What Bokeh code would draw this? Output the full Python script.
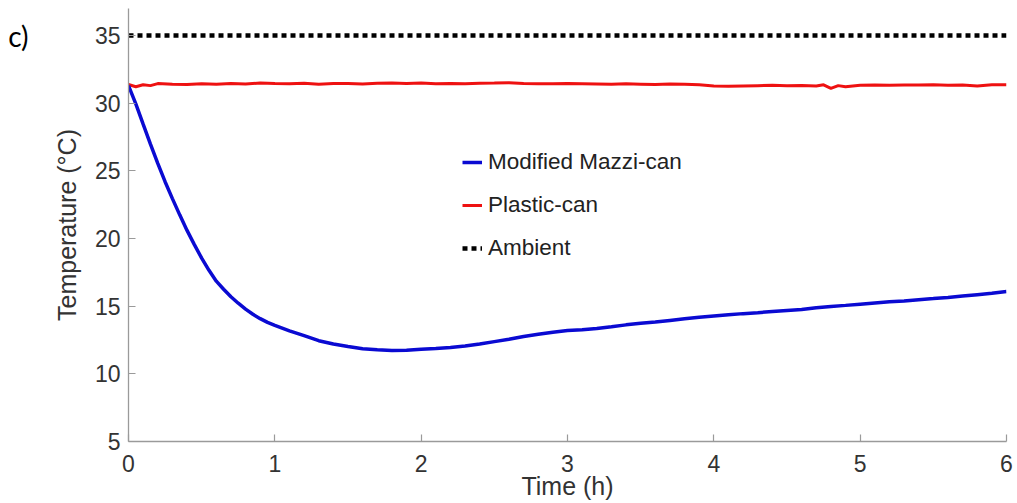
from bokeh.plotting import figure
from bokeh.models import FixedTicker, Legend, LegendItem, LinearAxis
from bokeh.embed import file_html
from bokeh.resources import INLINE

# Temperature records over six hours (h, °C)
mazzi_time = [0.00, 0.05, 0.10, 0.15, 0.20, 0.25, 0.30, 0.35, 0.40, 0.45,
              0.50, 0.55, 0.60, 0.65, 0.70, 0.75, 0.80, 0.85, 0.90, 0.95,
              1.00, 1.10, 1.20, 1.30, 1.40, 1.50, 1.60, 1.70, 1.80, 1.90,
              2.00, 2.10, 2.20, 2.30, 2.40, 2.50, 2.60, 2.70, 2.80, 2.90,
              3.00, 3.10, 3.20, 3.30, 3.40, 3.50, 3.60, 3.70, 3.80, 3.90,
              4.00, 4.10, 4.20, 4.30, 4.40, 4.50, 4.60, 4.70, 4.80, 4.90,
              5.00, 5.10, 5.20, 5.30, 5.40, 5.50, 5.60, 5.70, 5.80, 5.90,
              6.00]
mazzi_temp = [31.30, 29.95, 28.45, 26.98, 25.55, 24.20, 22.95, 21.75, 20.60, 19.55,
              18.55, 17.65, 16.85, 16.25, 15.70, 15.22, 14.78, 14.40, 14.08, 13.80,
              13.58, 13.18, 12.82, 12.45, 12.20, 12.02, 11.86, 11.78, 11.72, 11.74,
              11.82, 11.88, 11.95, 12.05, 12.20, 12.38, 12.55, 12.76, 12.92, 13.08,
              13.20, 13.26, 13.35, 13.48, 13.62, 13.74, 13.83, 13.95, 14.07, 14.18,
              14.28, 14.37, 14.45, 14.52, 14.60, 14.68, 14.76, 14.89, 14.98, 15.06,
              15.15, 15.24, 15.32, 15.39, 15.48, 15.56, 15.65, 15.75, 15.85, 15.95,
              16.08]

plastic_time = [0.00, 0.05, 0.10, 0.15, 0.20, 0.30, 0.40, 0.50, 0.60, 0.70,
                0.80, 0.90, 1.00, 1.10, 1.20, 1.30, 1.40, 1.50, 1.60, 1.70,
                1.80, 1.90, 2.00, 2.10, 2.20, 2.30, 2.40, 2.50, 2.60, 2.70,
                2.80, 2.90, 3.00, 3.10, 3.20, 3.30, 3.40, 3.50, 3.60, 3.70,
                3.80, 3.90, 4.00, 4.10, 4.20, 4.30, 4.40, 4.50, 4.60, 4.70,
                4.75, 4.80, 4.85, 4.90, 5.00, 5.10, 5.20, 5.30, 5.40, 5.50,
                5.60, 5.70, 5.80, 5.90, 6.00]
plastic_temp = [31.38, 31.22, 31.36, 31.30, 31.45, 31.40, 31.38, 31.44, 31.41, 31.46,
                31.42, 31.50, 31.45, 31.43, 31.48, 31.41, 31.45, 31.46, 31.42, 31.47,
                31.50, 31.46, 31.49, 31.44, 31.46, 31.43, 31.47, 31.49, 31.52, 31.46,
                31.44, 31.43, 31.45, 31.44, 31.42, 31.40, 31.44, 31.41, 31.38, 31.42,
                31.40, 31.36, 31.27, 31.25, 31.28, 31.30, 31.32, 31.30, 31.31, 31.28,
                31.36, 31.10, 31.30, 31.22, 31.32, 31.34, 31.33, 31.35, 31.34, 31.37,
                31.32, 31.34, 31.28, 31.36, 31.36]

ambient_time = [0.0, 6.0]
ambient_temp = [35.0, 35.0]

x_ticks = [0, 1, 2, 3, 4, 5, 6]
y_ticks = [5, 10, 15, 20, 25, 30, 35]
panel_letter = "c)"

p = figure(width=1017, height=503, x_range=(0, 6), y_range=(5, 37),
           output_backend="svg", toolbar_location=None,
           min_border_left=128, min_border_right=11,
           min_border_top=8, min_border_bottom=62)
p.outline_line_color = None
p.xgrid.visible = False
p.ygrid.visible = False
p.background_fill_color = "white"
p.border_fill_color = "white"

axis_font = "Liberation Sans"
for ax in (p.xaxis[0], p.yaxis[0]):
    ax.axis_line_color = "#9a9a9a"
    ax.axis_line_width = 1.3
    ax.major_tick_line_color = "#9a9a9a"
    ax.major_tick_line_width = 1.2
    ax.major_tick_in = 7
    ax.major_tick_out = 0
    ax.minor_tick_line_color = None
    ax.major_label_text_font = axis_font
    ax.major_label_text_font_size = "23px"
    ax.major_label_text_color = "#333333"
    ax.axis_label_text_font = axis_font
    ax.axis_label_text_font_size = "25px"
    ax.axis_label_text_font_style = "normal"
    ax.axis_label_text_color = "#333333"

p.xaxis.ticker = FixedTicker(ticks=x_ticks)
p.yaxis.ticker = FixedTicker(ticks=y_ticks)
p.xaxis.axis_label = "Time (h)"
p.yaxis.axis_label = "Temperature (°C)"
p.xaxis.major_label_standoff = 13
p.xaxis.axis_label_standoff = -3
p.yaxis.major_label_standoff = 8
p.yaxis.axis_label_standoff = 11

# panel letter, set as a lone label on an outer, lineless left axis
letter_axis = LinearAxis(ticker=FixedTicker(ticks=[35]),
                         major_label_overrides={35: panel_letter},
                         axis_line_color=None, major_tick_line_color=None,
                         minor_tick_line_color=None,
                         major_label_text_font="Lato",
                         major_label_text_font_size="28px",
                         major_label_text_color="black",
                         major_label_standoff=15)
p.add_layout(letter_axis, "left")

r_amb = p.line(ambient_time, ambient_temp, line_color="black", line_width=4.5,
               line_dash="5 4", line_cap="butt")
r_plastic = p.line(plastic_time, plastic_temp, line_color="#ee1111", line_width=3)
r_mazzi = p.line(mazzi_time, mazzi_temp, line_color="#0a0ad2", line_width=3.5)

legend = Legend(items=[
    LegendItem(label="Modified Mazzi-can", renderers=[r_mazzi]),
    LegendItem(label="Plastic-can", renderers=[r_plastic]),
    LegendItem(label="Ambient", renderers=[r_amb]),
], location=(334, 180))
legend.label_text_font = "Liberation Sans"
legend.label_text_font_size = "22.5px"
legend.label_text_color = "#222222"
legend.glyph_width = 20
legend.glyph_height = 26
legend.label_height = 26
legend.spacing = 17
legend.padding = 0
legend.margin = 0
legend.label_standoff = 6
legend.border_line_color = None
legend.background_fill_alpha = 0
p.add_layout(legend)

open("out.html", "w").write(file_html(p, INLINE))
